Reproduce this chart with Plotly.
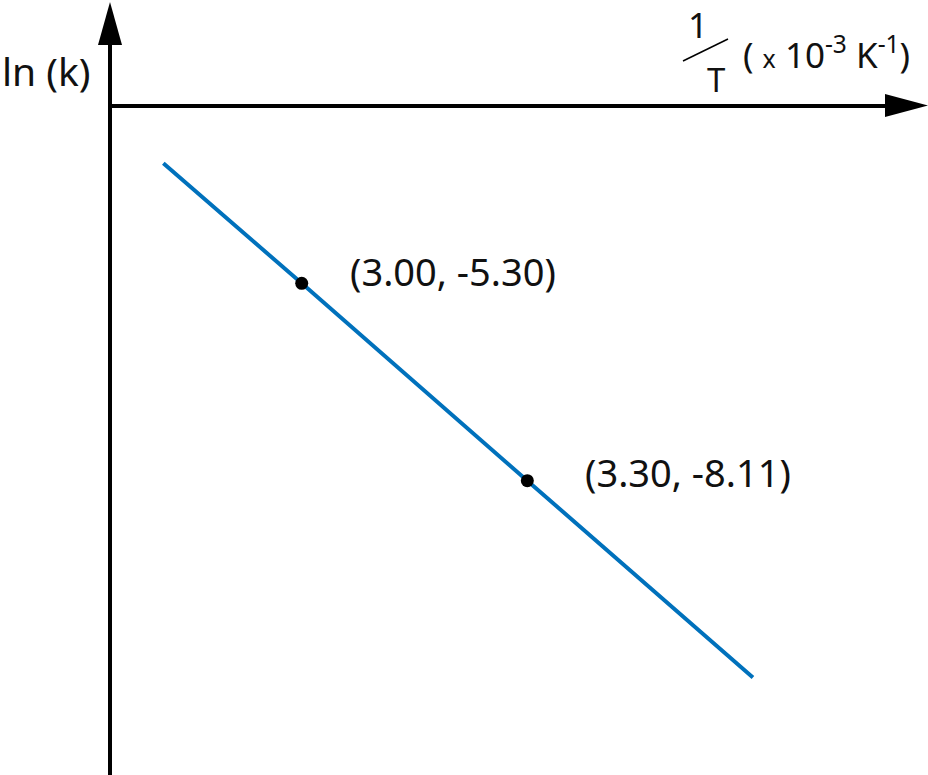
import plotly.graph_objects as go

# Data
point_x = [3.00, 3.30]
point_y = [-5.30, -8.11]
point_labels = ["(3.00, -5.30)", "(3.30, -8.11)"]
line_x = [2.816, 3.00, 3.30, 3.600]
line_y = [-3.59, -5.30, -8.11, -10.91]

W, H = 928, 775
FONT = "Noto Sans"
x_range = [2.5988, 3.8328]
y_range = [-12.299, -1.2672]

def px(xp):
    return xp / W

def py(yp):
    return 1 - yp / H

fig = go.Figure()
fig.add_trace(go.Scatter(x=line_x, y=line_y, mode="lines",
                         line=dict(color="#0071bc", width=4), hoverinfo="skip"))
fig.add_trace(go.Scatter(x=point_x, y=point_y, mode="markers",
                         marker=dict(color="black", size=13), hoverinfo="skip"))

shapes = []
# y axis line and arrow
shapes.append(dict(type="line", xref="paper", yref="paper",
                   x0=px(110), x1=px(110), y0=py(775), y1=py(40),
                   line=dict(color="black", width=4)))
shapes.append(dict(type="path", xref="paper", yref="paper",
                   path=f"M {px(98)},{py(45)} L {px(110)},{py(2)} L {px(122)},{py(45)} Z",
                   fillcolor="black", line=dict(width=0)))
# x axis line and arrow
shapes.append(dict(type="line", xref="paper", yref="paper",
                   x0=px(108), x1=px(890), y0=py(106), y1=py(106),
                   line=dict(color="black", width=4)))
shapes.append(dict(type="path", xref="paper", yref="paper",
                   path=f"M {px(885)},{py(94)} L {px(928)},{py(105.5)} L {px(885)},{py(117)} Z",
                   fillcolor="black", line=dict(width=0)))
# slash of 1/T
shapes.append(dict(type="line", xref="paper", yref="paper",
                   x0=px(683), x1=px(728), y0=py(61), y1=py(39),
                   line=dict(color="black", width=1.5)))

annotations = []
shifts = [(46, 12), (56, 9)]
for xv, yv, lab, (xs, ys) in zip(point_x, point_y, point_labels, shifts):
    annotations.append(dict(x=xv, y=yv, xref="x", yref="y", text=lab,
                            showarrow=False, xanchor="left", yanchor="middle",
                            xshift=xs, yshift=ys,
                            font=dict(family=FONT, size=38, color="#111111")))

annotations.append(dict(x=px(0), y=py(71), xref="paper", yref="paper", text="ln (k)",
                        showarrow=False, xanchor="left", yanchor="middle",
                        font=dict(family=FONT, size=39, color="#111111")))
annotations.append(dict(x=px(698), y=py(25), xref="paper", yref="paper", text="1",
                        showarrow=False, xanchor="center", yanchor="middle",
                        font=dict(family=FONT, size=35, color="#111111")))
annotations.append(dict(x=px(716), y=py(79), xref="paper", yref="paper", text="T",
                        showarrow=False, xanchor="center", yanchor="middle",
                        font=dict(family=FONT, size=33, color="#111111")))
annotations.append(dict(x=px(741), y=py(52), xref="paper", yref="paper",
                        text="( <span style='font-size:25px'>x</span> 10<sup>-3</sup> K<sup>-1</sup>)",
                        showarrow=False, xanchor="left", yanchor="middle",
                        font=dict(family=FONT, size=35, color="#111111")))

fig.update_layout(
    width=W, height=H,
    margin=dict(l=0, r=0, t=0, b=0),
    paper_bgcolor="white", plot_bgcolor="white",
    showlegend=False,
    xaxis=dict(range=x_range, visible=False, fixedrange=True),
    yaxis=dict(range=y_range, visible=False, fixedrange=True),
    shapes=shapes, annotations=annotations,
)
fig.write_html("out.html", config={"displayModeBar": False, "staticPlot": True},
               post_script="document.body.style.margin='0';document.body.style.overflow='hidden';")
